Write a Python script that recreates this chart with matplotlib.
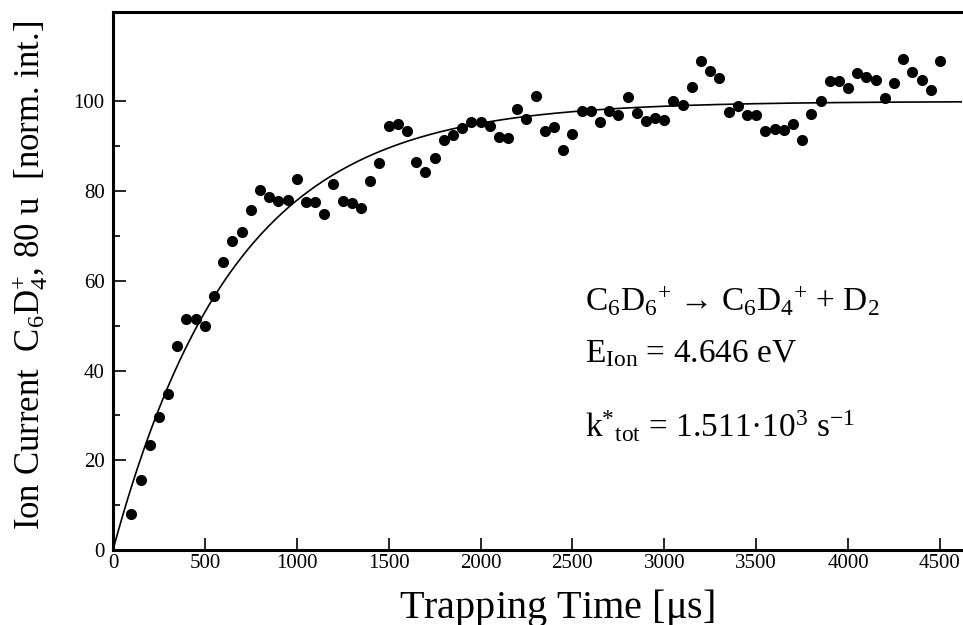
import matplotlib
matplotlib.use("Agg")
import matplotlib.pyplot as plt
import numpy as np

# measured points, every 50 us from 100 to 4500
time_us = np.arange(100, 4501, 50)
ion_current = [
    8.0, 15.7, 23.5, 29.7, 34.7, 45.4, 51.4, 51.4, 50.0, 56.6,
    64.1, 68.9, 70.9, 75.7, 80.3, 78.8, 77.8, 78.0, 82.7, 77.5,
    77.5, 74.8, 81.6, 77.9, 77.4, 76.2, 82.2, 86.3, 94.5, 95.0,
    93.4, 86.5, 84.3, 87.3, 91.5, 92.5, 94.1, 95.3, 95.3, 94.6,
    92.0, 91.8, 98.2, 96.1, 101.2, 93.3, 94.3, 89.2, 92.8, 97.9,
    97.9, 95.5, 97.9, 97.0, 101.0, 97.4, 95.7, 96.2, 95.9, 100.2,
    99.3, 103.3, 109.1, 106.8, 105.2, 97.6, 98.9, 96.9, 96.9, 93.3,
    93.9, 93.6, 95.0, 91.3, 97.3, 100.1, 104.5, 104.5, 102.9, 106.4,
    105.4, 104.7, 100.8, 104.2, 109.5, 106.5, 104.7, 102.6, 109.1,
]

# fit: I = A (1 - exp(-k t))
fit_amp = 100.0
k_tot = 1.511e3  # 1/s

plt.rcParams['font.family'] = ['Liberation Serif', 'DejaVu Serif']
plt.rcParams['mathtext.fontset'] = 'custom'
plt.rcParams['mathtext.rm'] = 'Liberation Serif'
plt.rcParams['mathtext.it'] = 'Liberation Serif:italic'
plt.rcParams['mathtext.bf'] = 'Liberation Serif:bold'

fig = plt.figure(figsize=(9.63, 6.25), dpi=100)
ax = fig.add_axes([0.1173, 0.12, 0.8817, 0.8613])

t_fit = np.linspace(0, 4620, 500)
ax.plot(t_fit, fit_amp * (1 - np.exp(-k_tot * t_fit * 1e-6)), color='black', lw=1.2)
ax.plot(time_us, ion_current, 'o', color='black', ms=7, mec='black')

ax.set_xlim(0, 4620)
ax.set_ylim(0, 120)
ax.set_xticks(np.arange(0, 4501, 500))
ax.set_yticks(np.arange(0, 101, 20))
ax.set_yticks(np.arange(10, 100, 20), minor=True)

for side in ['left', 'bottom', 'top']:
    ax.spines[side].set_linewidth(2.2)
ax.spines['right'].set_visible(False)
ax.tick_params(which='major', direction='in', length=9, width=1.2, labelsize=15, pad=6)
ax.tick_params(which='minor', direction='in', length=5, width=1.2)
ax.tick_params(axis='x', pad=3)

ax.set_xlabel(r'Trapping Time [$\mathrm{\mu}$s]', fontsize=29)
ax.xaxis.label.set_va('baseline')
ax.xaxis.set_label_coords(0.523, -0.126)
ax.set_ylabel(r'Ion Current  C$_{\mathrm{6}}$D$_{\mathrm{4}}^{\mathrm{+}}$, 80 u  [norm. int.]',
              fontsize=25)
ax.yaxis.label.set_va('center')
ax.yaxis.set_label_coords(-0.098, 0.51)

txt = dict(transform=ax.transAxes, fontsize=24, va='baseline')
ax.text(0.556, 0.446, r'C$_{\mathrm{6}}$D$_{\mathrm{6}}$$^{\mathrm{+}}$ → C$_{\mathrm{6}}$D$_{\mathrm{4}}$$^{\mathrm{+}}$ + D$_{\mathrm{2}}$', **txt)
ax.text(0.556, 0.349, r'E$_{\mathrm{Ion}}$ = 4.646 eV', **txt)
ax.text(0.556, 0.21, r'k$^{\mathrm{*}}$$_{\mathrm{tot}}$ = 1.511·10$^{\mathrm{3}}$ s$^{\mathrm{-1}}$', **txt)

fig.savefig('out.png', dpi=100)
